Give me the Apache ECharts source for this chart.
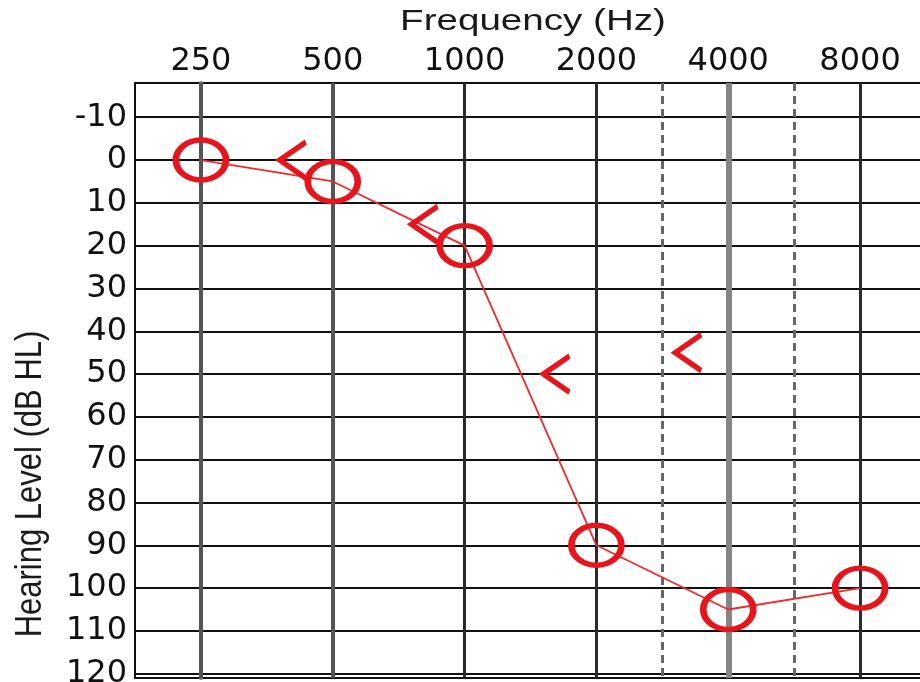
<!DOCTYPE html>
<html>
<head>
<meta charset="utf-8">
<title>Audiogram</title>
<script src="https://cdn.jsdelivr.net/npm/echarts@6/dist/echarts.min.js"></script>
<style>
  html, body { margin: 0; padding: 0; background: #fff; }
  #main { width: 920px; height: 682px; }
</style>
</head>
<body>
<div id="main"></div>
<script>
// frequencies on the top axis (Hz)
var freqs = [250, 500, 1000, 2000, 4000, 8000];
// half-octave dashed lines
var halfFreqs = [3000, 6000];
// hearing level ticks (dB HL)
var dbTicks = [-10, 0, 10, 20, 30, 40, 50, 60, 70, 80, 90, 100, 110, 120];

// air conduction, right ear (O)
var airDb = [0, 5, 20, 90, 105, 100];
// bone conduction, right ear (<)
var boneFreqs = [500, 1000, 2000, 4000];
var boneDb = [0, 15, 50, 45];

// audiogram x position: one unit per octave, half octaves in between
function xPos(f) {
    var i = freqs.indexOf(f);
    if (i >= 0) return i;
    return freqs.findIndex(function (v) { return v > f; }) - 0.5;
}

var red = '#e8141c';
var freqLineStyle = {
    250: { color: '#555', width: 4, type: 'solid' },
    500: { color: '#555', width: 4, type: 'solid' },
    1000: { color: '#2a2a2a', width: 3, type: 'solid' },
    2000: { color: '#2a2a2a', width: 3, type: 'solid' },
    4000: { color: '#858585', width: 6, type: 'solid' },
    8000: { color: '#2a2a2a', width: 3, type: 'solid' }
};

var gridLines = [];
dbTicks.forEach(function (v) {
    gridLines.push({ yAxis: v, lineStyle: { color: '#111', width: 2, type: 'solid' } });
});
freqs.forEach(function (f) {
    gridLines.push({ xAxis: xPos(f), lineStyle: freqLineStyle[f] });
});
halfFreqs.forEach(function (f) {
    gridLines.push({ xAxis: xPos(f), lineStyle: { color: '#666', width: 3, type: [8, 5] } });
});

var chart = echarts.init(document.getElementById('main'));
var option = {
    animation: false,
    backgroundColor: '#fff',
    grid: {
        left: 135, top: 83, right: -6, bottom: 4,
        outerBoundsMode: 'none',
        show: true, borderColor: '#111', borderWidth: 2
    },
    xAxis: {
        type: 'value',
        position: 'top',
        min: -0.5,
        max: 5.5,
        axisLine: { show: true, lineStyle: { color: '#111', width: 2 } },
        axisTick: { show: false },
        splitLine: { show: false },
        axisLabel: {
            customValues: freqs.map(xPos),
            formatter: function (v) { return freqs[Math.round(v)]; },
            fontFamily: 'DejaVu Sans',
            fontSize: 32,
            color: '#111',
            margin: 5
        }
    },
    yAxis: {
        type: 'value',
        inverse: true,
        min: -18,
        max: 121,
        axisLine: { show: true, lineStyle: { color: '#777', width: 4 } },
        axisTick: { show: false },
        splitLine: { show: false },
        axisLabel: {
            customValues: dbTicks,
            fontFamily: 'DejaVu Sans',
            fontSize: 32,
            color: '#111',
            margin: 8
        }
    },
    graphic: [
        {
            type: 'text', x: 533, y: 22, scaleX: 1.33,
            style: {
                text: 'Frequency (Hz)', font: '29px "Liberation Sans"',
                fill: '#1a1a1a', textAlign: 'center', textVerticalAlign: 'middle'
            }
        },
        {
            type: 'text', x: 31, y: 484, rotation: Math.PI / 2, scaleY: 1.18,
            style: {
                text: 'Hearing Level (dB HL)', font: '31px "Liberation Sans"',
                fill: '#1a1a1a', textAlign: 'center', textVerticalAlign: 'middle'
            }
        }
    ],
    series: [
        {
            name: 'grid',
            type: 'line',
            data: [],
            z: 1,
            silent: true,
            markLine: {
                z: 1,
                silent: true,
                symbol: 'none',
                label: { show: false },
                emphasis: { disabled: true },
                data: gridLines
            }
        },
        {
            name: 'Air',
            type: 'line',
            z: 10,
            data: freqs.map(function (f, i) { return [xPos(f), airDb[i]]; }),
            symbol: 'circle',
            symbolSize: [50, 40],
            itemStyle: { color: 'transparent', borderColor: red, borderWidth: 6 },
            lineStyle: { color: '#f02a2a', width: 1.8 }
        },
        {
            name: 'Bone',
            type: 'scatter',
            z: 10,
            data: boneFreqs.map(function (f, i) { return [xPos(f), boneDb[i]]; }),
            symbol: 'path://M26,0 L0,18 L26,36',
            symbolSize: [26, 36],
            symbolOffset: [-40, 0],
            itemStyle: { color: 'transparent', borderColor: red, borderWidth: 5, opacity: 1 }
        }
    ]
};
chart.setOption(option);
</script>
</body>
</html>
